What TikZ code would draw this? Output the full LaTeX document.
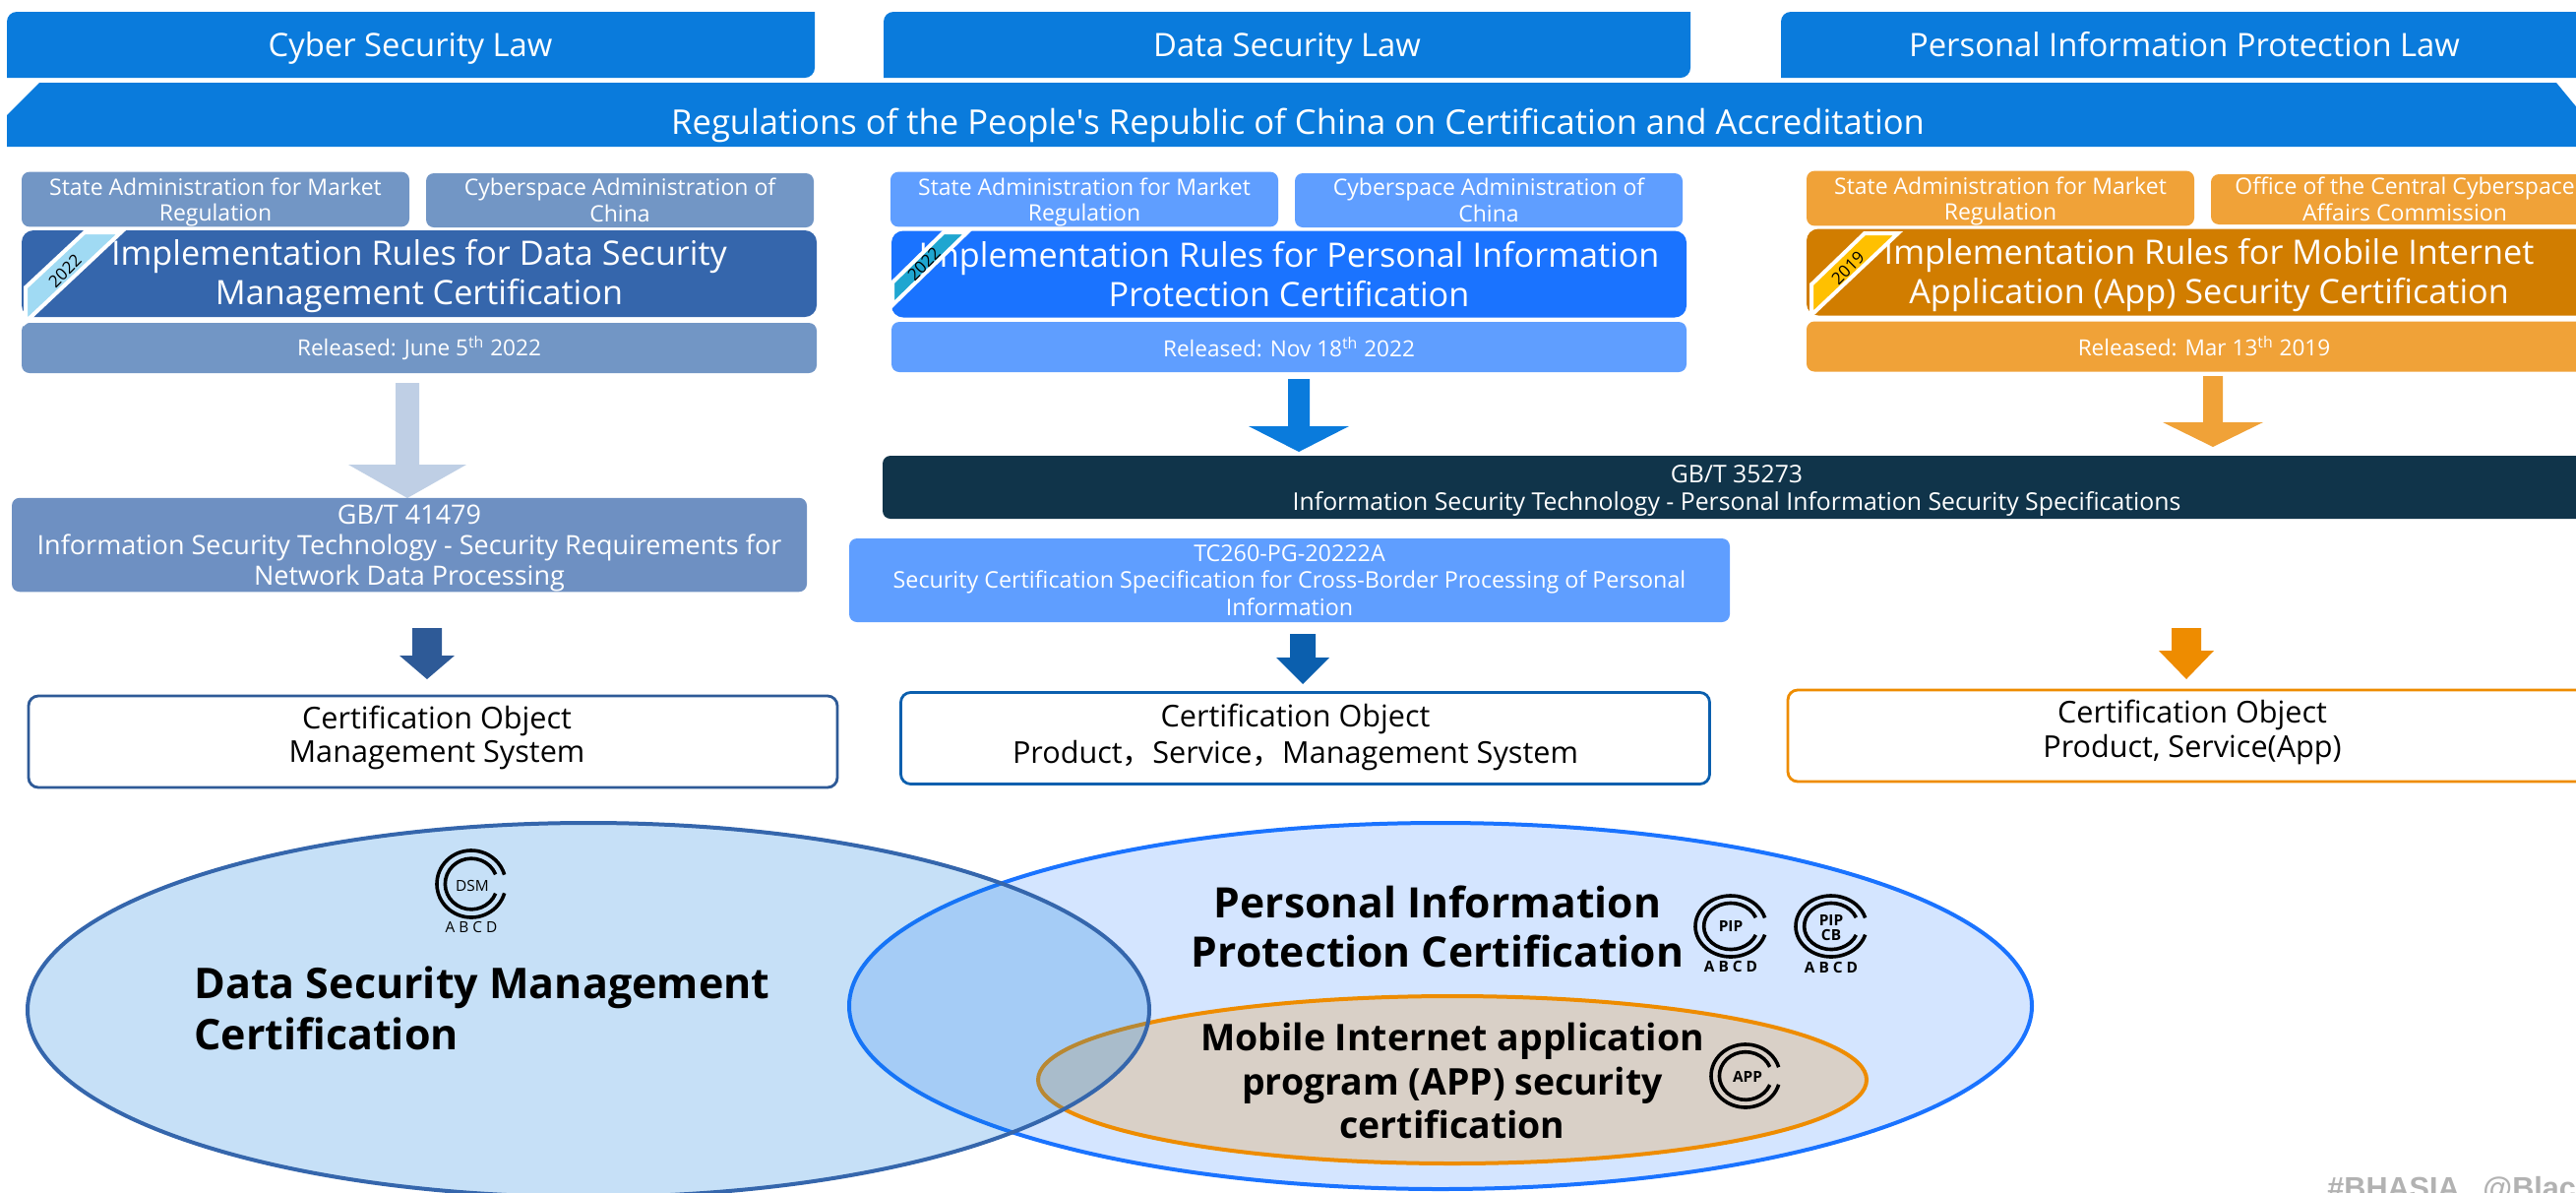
\documentclass[tikz,border=0pt]{standalone}
\usepackage{fontspec}
\setmainfont{Open Sans}
\newfontfamily\cjk{Noto Sans CJK SC}
\newfontfamily\markfont{Liberation Sans}
\usetikzlibrary{shapes.geometric}
\definecolor{lawblue}{HTML}{0A7BDC}
\definecolor{dslight}{HTML}{7296C5}
\definecolor{dsdark}{HTML}{3566AC}
\definecolor{pilight}{HTML}{5F9EFF}
\definecolor{pidark}{HTML}{1A73FF}
\definecolor{pipale}{HTML}{D4E5FF}
\definecolor{applight}{HTML}{F0A238}
\definecolor{appdark}{HTML}{D17D00}
\definecolor{apporange}{HTML}{EE8C00}
\definecolor{apppale}{HTML}{D9D0C7}
\definecolor{gbdark}{HTML}{10344A}
\definecolor{gbmid}{HTML}{6E90C2}
\definecolor{arrowpale}{HTML}{BFCFE5}
\definecolor{arrowds}{HTML}{2E5A97}
\definecolor{arrowpi}{HTML}{0B5FAE}
\definecolor{ribbonds}{HTML}{A0DAF3}
\definecolor{ribbonpi}{HTML}{1FA6D0}
\definecolor{ribbonapp}{HTML}{FFC000}
\tikzset{
	lawtext/.style={text=white,anchor=base,inner sep=0pt,font=\fontsize{16.4}{20}\selectfont},
	smallbox/.style={fill=#1,text=white,rounded corners=4pt,align=center,minimum width=197pt,minimum height=27.5pt,inner sep=0pt,font=\fontsize{11.5}{13.4}\selectfont},
	rulebox/.style={fill=#1,text=white,rounded corners=6pt,align=center,minimum width=404pt,minimum height=44pt,inner sep=0pt,font=\fontsize{17.1}{20}\selectfont},
	datebox/.style={fill=#1,text=white,rounded corners=4pt,align=center,minimum width=404pt,minimum height=25.5pt,inner sep=0pt,font=\fontsize{11.3}{13}\selectfont},
	specbox/.style={fill=#1,text=white,rounded corners=4pt,align=center,inner sep=0pt},
	objectbox/.style={draw=#1,fill=white,line width=1.4pt,rounded corners=5pt,align=center,minimum width=411pt,minimum height=46.5pt,inner sep=0pt,font=\fontsize{15.3}{16}\selectfont},
	ribbon/.style={fill=#1,draw=white,line width=2pt,line join=miter},
	yeartext/.style={text=black,inner sep=0pt,rotate=45,font=\fontsize{8.5}{10}\selectfont},
	bigtext/.style={text=black,align=center,inner sep=0pt,font=\bfseries\fontsize{21.3}{25}\selectfont},
	logotext/.style={text=black,inner sep=0pt,align=center,font=\fontsize{7.7}{7.5}\selectfont},
	logoline/.style={line width=1.8pt,draw=black,line cap=butt},
}
% x y of centre, x and y radius
\newcommand{\certlogo}[4]{
	\begin{scope}[shift={(#1,#2)},xscale=#3,yscale=#4]
		\draw[logoline] (16:1) arc (16:344:1);
		\draw[logoline] (22:0.76) arc (22:338:0.76);
	\end{scope}
}
% from coordinate, to coordinate, half shaft, half head, head length, colour
\newcommand{\blockarrow}[6]{
	\fill[#6] ([shift={(-#3,0)}]#1) -- ([shift={(#3,0)}]#1) -- ([shift={(#3,-#5)}]#2) -- ([shift={(#4,-#5)}]#2) -- (#2) -- ([shift={(-#4,-#5)}]#2) -- ([shift={(-#3,-#5)}]#2) -- cycle;
}
\begin{document}
\begin{tikzpicture}[x=0.5pt,y=0.5pt,yscale=-1,xscale=1]
	\useasboundingbox (0,0) rectangle (2618,1211);
	\clip (0,0) rectangle (2618,1211);
	% laws
	\fill[lawblue] (7,79) [rounded corners=5pt] -- (7,12) [sharp corners] -- (828,12) [rounded corners=5pt] -- (828,79) [sharp corners] -- cycle;
	\fill[lawblue] (898,79) [rounded corners=5pt] -- (898,12) [sharp corners] -- (1718,12) [rounded corners=5pt] -- (1718,79) [sharp corners] -- cycle;
	\fill[lawblue] (1810,79) [rounded corners=5pt] -- (1810,12) [sharp corners] -- (2640,12) -- (2640,79) -- cycle;
	\fill[lawblue] (7,149) -- (7,117) -- (40,84) -- (2598,84) -- (2640,135) -- (2640,149) -- cycle;
	\node[lawtext] (lawCyber) at (417,57) {Cyber Security Law};
	\node[lawtext] (lawData) at (1308,57) {Data Security Law};
	\node[lawtext] (lawPerson) at (2220,57) {Personal Information Protection Law};
	\node[lawtext,font=\fontsize{17.3}{20}\selectfont] (regulation) at (1319,136) {Regulations of the People\textquotesingle s Republic of China on Certification and Accreditation};
	% data security column
	\node[smallbox=dslight] (marketA) at (219,202.5) {\rule{0pt}{11.7pt}State Administration for Market\\Regulation};
	\node[smallbox=dslight] (cyberA) at (630,203.5) {Cyberspace Administration of\\China};
	\node[rulebox=dsdark] (ruleA) at (426,278) {\rule{0pt}{16pt}Implementation Rules for Data Security\\Management Certification};
	\node[datebox=dslight] (dateA) at (426,353.5) {Released: June 5\textsuperscript{th} 2022};
	\draw[ribbon=ribbonds] (86,236) -- (123,236) -- (26,327) -- (26,292) -- cycle;
	\node[yeartext] (yearA) at (66,275) {2022};
	\coordinate (arrA1) at (414,389);
	\coordinate (arrA2) at (414,506);
	\blockarrow{arrA1}{arrA2}{12}{60}{34}{arrowpale}
	\node[specbox=gbmid,minimum width=404pt,minimum height=47.5pt,font=\fontsize{13.5}{15.5}\selectfont] (specA) at (416,553.5) {\rule{0pt}{13.5pt}GB/T 41479\\Information Security Technology - Security Requirements for\\Network Data Processing};
	\coordinate (arrB1) at (434,638);
	\coordinate (arrB2) at (434,690);
	\blockarrow{arrB1}{arrB2}{15}{28}{24}{arrowds}
	\node[objectbox=arrowds] (objA) at (440,753.5) {\hspace*{4pt}Certification Object\\[1pt]\hspace*{4pt}Management System\rule[-8pt]{0pt}{0pt}};
	% personal information column
	\node[smallbox=pilight] (marketB) at (1102,202.5) {\rule{0pt}{11.7pt}State Administration for Market\\Regulation};
	\node[smallbox=pilight] (cyberB) at (1513,203.5) {Cyberspace Administration of\\China};
	\node[rulebox=pidark] (ruleB) at (1310,278.5) {Implementation Rules for Personal Information\\Protection Certification};
	\node[datebox=pilight] (dateB) at (1310,352.5) {Released: Nov 18\textsuperscript{th} 2022};
	\draw[ribbon=ribbonpi] (959,236) -- (983,236) -- (907,310) -- (907,287) -- cycle;
	\node[yeartext] (yearB) at (939,268) {2022};
	\coordinate (arrC1) at (1320,385);
	\coordinate (arrC2) at (1320,459);
	\blockarrow{arrC1}{arrC2}{11}{51}{26}{lawblue}
	\node[specbox=gbdark,minimum width=868pt,minimum height=32pt,font=\fontsize{12.4}{14}\selectfont] (specB) at (1765,495) {\rule{0pt}{12.5pt}GB/T 35273\\Information Security Technology - Personal Information Security Specifications};
	\node[specbox=pilight,minimum width=447.5pt,minimum height=42.5pt,font=\fontsize{11.65}{13.8}\selectfont] (specC) at (1310.5,589.5) {TC260-PG-20222A\\Security Certification Specification for Cross-Border Processing of Personal\\Information};
	\coordinate (arrD1) at (1324,644);
	\coordinate (arrD2) at (1324,695);
	\blockarrow{arrD1}{arrD2}{13}{27}{27}{arrowpi}
	\node[objectbox=arrowpi] (objB) at (1326.5,750) {Certification Object\hspace*{10pt}\\[2.4pt]Product{\cjk ，}Service{\cjk ，}Management System\hspace*{10pt}\rule[-5pt]{0pt}{0pt}};
	% mobile app column
	\node[smallbox=applight,minimum height=25.5pt] (marketC) at (2033,201.5) {\rule{0pt}{11.7pt}State Administration for Market\\Regulation};
	\node[smallbox=applight,minimum height=25.5pt] (officeC) at (2444,202.5) {Office of the Central Cyberspace\\Affairs Commission};
	\node[rulebox=appdark] (ruleC) at (2240,276.5) {\rule{0pt}{16pt}\hspace*{5pt}Implementation Rules for Mobile Internet\\\hspace*{5pt}Application (App) Security Certification};
	\node[datebox=applight] (dateC) at (2240,352) {Released: Mar 13\textsuperscript{th} 2019};
	\draw[ribbon=ribbonapp] (1895,237) -- (1929,237) -- (1841,320) -- (1841,289) -- cycle;
	\node[yeartext] (yearC) at (1878,272) {2019};
	\coordinate (arrE1) at (2249,382);
	\coordinate (arrE2) at (2249,454);
	\blockarrow{arrE1}{arrE2}{10}{51}{25}{applight}
	\coordinate (arrF1) at (2222,638);
	\coordinate (arrF2) at (2222,690);
	\blockarrow{arrF1}{arrF2}{15}{28}{29}{apporange}
	\node[objectbox=apporange] (objC) at (2228,747.5) {Certification Object\\[1.5pt]Product, Service(App)\rule[-7pt]{0pt}{0pt}};
	% certification scopes
	\node[ellipse,draw=pidark,fill=pipale,line width=2pt,minimum width=601pt,minimum height=186pt,inner sep=0pt] (scopePI) at (1464,1022) {};
	\node[ellipse,draw=apporange,fill=apppale,line width=2pt,minimum width=421pt,minimum height=85pt,inner sep=0pt] (scopeApp) at (1476,1097) {};
	\node[ellipse,draw=dsdark,fill=lawblue,fill opacity=0.23,draw opacity=1,line width=2pt,minimum width=570pt,minimum height=190pt,inner sep=0pt] (scopeDS) at (598,1026) {};
	\node[bigtext,align=left,anchor=west,font=\bfseries\fontsize{21.5}{26}\selectfont] (textDS) at (197,1024) {Data Security Management\\Certification};
	\node[bigtext] (textPI) at (1461,941) {Personal Information\\Protection Certification};
	\node[bigtext,font=\bfseries\fontsize{18.7}{22.2}\selectfont] (textApp) at (1476,1098) {Mobile Internet application\\program (APP) security\\certification};
	\certlogo{479}{898}{35}{34}
	\node[logotext] (logoDSM) at (480,900) {DSM};
	\node[logotext] (abcdDSM) at (479,942) {A B C D};
	\certlogo{1759}{941}{36}{31}
	\node[logotext,font=\bfseries\fontsize{7.7}{7.5}\selectfont] (logoPIP) at (1759,941) {PIP};
	\node[logotext,font=\bfseries\fontsize{7.7}{7.5}\selectfont] (abcdPIP) at (1759,982) {A B C D};
	\certlogo{1861}{941}{36}{31}
	\node[logotext,font=\bfseries\fontsize{7.7}{7.5}\selectfont] (logoPIPCB) at (1861,943) {PIP\\CB};
	\node[logotext,font=\bfseries\fontsize{7.7}{7.5}\selectfont] (abcdPIPCB) at (1861,983) {A B C D};
	\certlogo{1774}{1093}{35}{32}
	\node[logotext,font=\bfseries\fontsize{7.7}{7.5}\selectfont] (logoAPP) at (1776,1094) {APP};
	\node[anchor=base west,inner sep=0pt,text=black!30,font=\markfont\bfseries\fontsize{15.3}{17}\selectfont] (markBH) at (2365,1217) {\#BHASIA};
	\node[anchor=base west,inner sep=0pt,text=black!30,font=\markfont\bfseries\fontsize{15.3}{17}\selectfont] (markAt) at (2523,1217) {@Black};
\end{tikzpicture}
\end{document}
